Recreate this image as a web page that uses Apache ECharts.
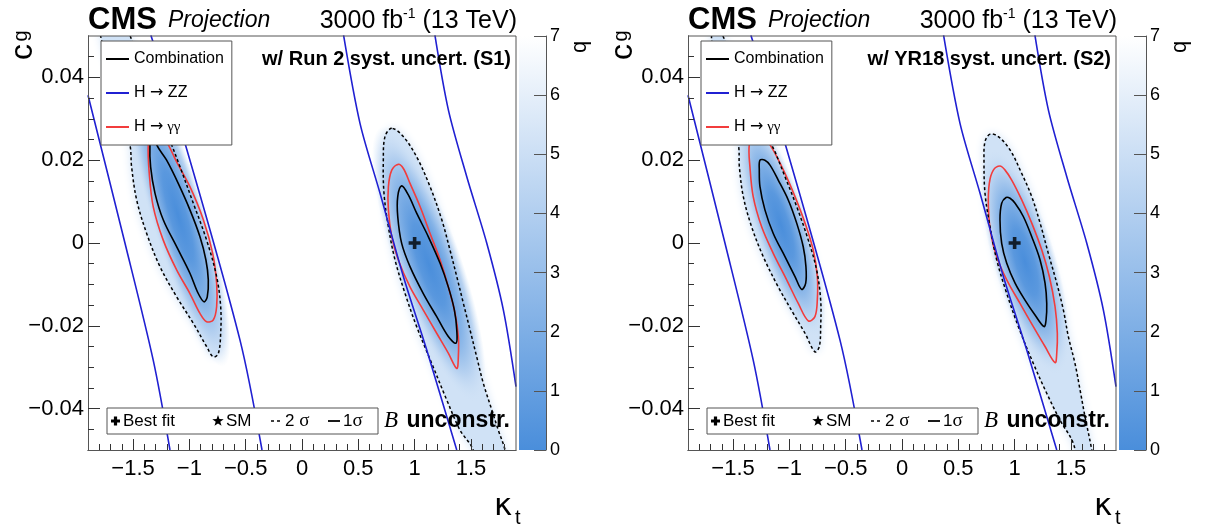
<!DOCTYPE html>
<html>
<head>
<meta charset="utf-8">
<title>CMS projection: c_g vs kappa_t</title>
<script src="https://cdn.jsdelivr.net/npm/echarts@6.0.0/dist/echarts.min.js"></script>
<style>
  html, body { margin: 0; padding: 0; background: #ffffff; }
  #main { width: 1205px; height: 524px; }
</style>
</head>
<body>
<div id="main"></div>
<script>
(function () {
  'use strict';

  // ---- axes ----
  const kappaRange = [-1.9, 1.9];
  const cgRange = [-0.05, 0.05];
  const qRange = [0, 7];
  const kappaTicks = [-1.5, -1, -0.5, 0, 0.5, 1, 1.5];
  const kappaMinorTicks = [-1.8, -1.7, -1.6, -1.4, -1.3, -1.2, -1.1, -0.9, -0.8, -0.7, -0.6,
    -0.4, -0.3, -0.2, -0.1, 0.1, 0.2, 0.3, 0.4, 0.6, 0.7, 0.8, 0.9, 1.1, 1.2, 1.3, 1.4, 1.6, 1.7, 1.8];
  const cgTicks = [-0.04, -0.02, 0, 0.02, 0.04];
  const cgMinorTicks = [-0.045, -0.035, -0.03, -0.025, -0.015, -0.01, -0.005,
    0.005, 0.01, 0.015, 0.025, 0.03, 0.035, 0.045];

  // ---- H -> ZZ contour (same in both scenarios) ----
  const zzEdge1 = [[-1.90, 0.0357], [-1.572, 0.0], [-1.321, -0.0283], [-1.172, -0.05]];
  const zzEdge2 = [[-1.342, 0.0502], [-1.039, 0.0241], [-0.551, -0.0234], [-0.355, -0.05]];
  const zzEdge3 = [[0.369, 0.0502], [0.515, 0.0289], [0.693, 0.012], [0.90, -0.0081], [1.107, -0.0258], [1.374, -0.05]];
  const zzEdge4 = [[1.18, 0.0502], [1.30, 0.0321], [1.463, 0.016], [1.64, 0.0], [1.788, -0.0162], [1.90, -0.0347]];

  // ---- S1: Run 2 systematics ----
  const s1Comb1A = [[-1.33, 0.0275], [-1.350, 0.0237], [-1.344, 0.0184], [-1.305, 0.0120], [-1.232, 0.0056],
    [-1.113, -0.0009], [-0.995, -0.0073], [-0.921, -0.0122], [-0.870, -0.0142], [-0.841, -0.0130],
    [-0.832, -0.0089], [-0.853, -0.0041], [-0.906, 0.0015], [-0.995, 0.0080], [-1.099, 0.0144],
    [-1.202, 0.0200], [-1.290, 0.0237]];
  const s1Comb1B = [[0.885, 0.0138], [0.850, 0.0112], [0.850, 0.0064], [0.885, -0.0001], [0.959, -0.0057],
    [1.077, -0.0122], [1.196, -0.0178], [1.299, -0.0226], [1.368, -0.0242], [1.374, -0.0210],
    [1.353, -0.0162], [1.299, -0.0106], [1.226, -0.0049], [1.122, 0.0015], [1.018, 0.0072], [0.944, 0.0116]];
  const s1GamA = [[-1.33, 0.030], [-1.365, 0.0237], [-1.356, 0.0168], [-1.321, 0.0088], [-1.232, 0.0007],
    [-1.113, -0.0065], [-0.995, -0.0122], [-0.906, -0.0170], [-0.847, -0.0190], [-0.788, -0.0186],
    [-0.758, -0.0154], [-0.758, -0.0097], [-0.793, -0.0025], [-0.876, 0.0056], [-0.995, 0.0136],
    [-1.113, 0.0196], [-1.187, 0.0237]];
  const s1GamB = [[0.855, 0.0190], [0.797, 0.0176], [0.767, 0.0136], [0.767, 0.0080], [0.797, 0.0015],
    [0.855, -0.0041], [0.959, -0.0106], [1.077, -0.0162], [1.196, -0.0218], [1.299, -0.0266],
    [1.374, -0.0303], [1.388, -0.0275], [1.388, -0.0226], [1.359, -0.0170], [1.299, -0.0106],
    [1.226, -0.0041], [1.137, 0.0023], [1.048, 0.0088], [0.959, 0.0144], [0.900, 0.0180]];
  const s1Comb2A = [[-1.85, 0.062], [-1.78, 0.049], [-1.66, 0.037], [-1.528, 0.0237], [-1.513, 0.0184],
    [-1.468, 0.0104], [-1.379, 0.0023], [-1.261, -0.0057], [-1.113, -0.0130], [-0.965, -0.0194],
    [-0.847, -0.0250], [-0.788, -0.0275], [-0.743, -0.0267], [-0.722, -0.0218], [-0.722, -0.0154],
    [-0.758, -0.0081], [-0.847, 0.0007], [-0.965, 0.0096], [-1.083, 0.0184], [-1.157, 0.0237],
    [-1.30, 0.034], [-1.44, 0.044], [-1.56, 0.053], [-1.62, 0.062]];
  const s1Comb2B = [[0.797, 0.0277], [0.737, 0.0257], [0.722, 0.0200], [0.728, 0.0120], [0.767, 0.0039],
    [0.826, -0.0041], [0.915, -0.0122], [1.018, -0.0202], [1.152, -0.0291], [1.285, -0.0379],
    [1.403, -0.0452], [1.52, -0.050], [1.60, -0.060], [1.88, -0.060], [1.803, -0.050], [1.743, -0.0452],
    [1.685, -0.0403], [1.610, -0.0339], [1.551, -0.0275], [1.492, -0.0210], [1.433, -0.0146],
    [1.374, -0.0081], [1.314, -0.0017], [1.241, 0.0056], [1.137, 0.0136], [1.018, 0.0208], [0.900, 0.0257]];

  // ---- S2: YR18 systematics ----
  const s2Comb1A = [[-1.261, 0.0200], [-1.267, 0.0176], [-1.261, 0.0136], [-1.217, 0.0080], [-1.143, 0.0023],
    [-1.039, -0.0033], [-0.950, -0.0081], [-0.891, -0.0112], [-0.855, -0.0097], [-0.853, -0.0057],
    [-0.877, -0.0009], [-0.935, 0.0048], [-1.010, 0.0104], [-1.099, 0.0152], [-1.172, 0.0188], [-1.217, 0.0200]];
  const s2Comb1B = [[0.924, 0.0110], [0.885, 0.0096], [0.870, 0.0056], [0.885, -0.0001], [0.930, -0.0049],
    [1.004, -0.0097], [1.092, -0.0138], [1.181, -0.0174], [1.261, -0.0202], [1.279, -0.0186],
    [1.285, -0.0146], [1.270, -0.0097], [1.226, -0.0041], [1.152, 0.0015], [1.077, 0.0064],
    [1.004, 0.0096], [0.959, 0.0108]];
  const s2GamA = [[-1.30, 0.029], [-1.356, 0.0237], [-1.350, 0.0184], [-1.321, 0.0112], [-1.246, 0.0039],
    [-1.143, -0.0025], [-1.024, -0.0089], [-0.921, -0.0146], [-0.832, -0.0188], [-0.773, -0.0178],
    [-0.752, -0.0138], [-0.752, -0.0081], [-0.788, -0.0017], [-0.861, 0.0048], [-0.950, 0.0112],
    [-1.039, 0.0168], [-1.128, 0.0217], [-1.172, 0.0237]];
  const s2GamB = [[0.870, 0.0186], [0.811, 0.0176], [0.775, 0.0144], [0.767, 0.0088], [0.788, 0.0023],
    [0.841, -0.0033], [0.930, -0.0089], [1.048, -0.0146], [1.166, -0.0202], [1.270, -0.0250],
    [1.359, -0.0289], [1.374, -0.0266], [1.379, -0.0218], [1.359, -0.0154], [1.308, -0.0081],
    [1.241, -0.0017], [1.152, 0.0048], [1.063, 0.0104], [0.974, 0.0152], [0.915, 0.0176]];
  const s2Comb2A = [[-1.65, 0.054], [-1.69, 0.049], [-1.57, 0.036], [-1.453, 0.0237], [-1.444, 0.0184],
    [-1.409, 0.0112], [-1.335, 0.0039], [-1.232, -0.0033], [-1.099, -0.0106], [-0.965, -0.0170],
    [-0.861, -0.0218], [-0.773, -0.0263], [-0.734, -0.0250], [-0.722, -0.0202], [-0.722, -0.0138],
    [-0.758, -0.0065], [-0.832, 0.0007], [-0.935, 0.0088], [-1.039, 0.0160], [-1.128, 0.0221],
    [-1.157, 0.0237], [-1.30, 0.033], [-1.45, 0.042], [-1.59, 0.050]];
  const s2Comb2B = [[0.782, 0.0263], [0.737, 0.0245], [0.728, 0.0200], [0.737, 0.0120], [0.782, 0.0039],
    [0.841, -0.0041], [0.930, -0.0122], [1.033, -0.0202], [1.166, -0.0291], [1.285, -0.0363],
    [1.403, -0.0428], [1.521, -0.0484], [1.58, -0.056], [1.66, -0.059], [1.71, -0.055], [1.685, -0.050],
    [1.625, -0.0420], [1.581, -0.0355], [1.536, -0.0291], [1.477, -0.0226], [1.433, -0.0162],
    [1.374, -0.0097], [1.299, -0.0025], [1.226, 0.0048], [1.152, 0.0112], [1.063, 0.0168],
    [0.959, 0.0225], [0.855, 0.0257]];

  const bestFit = [[1, 0]];

  const panelTags = ['w/ Run 2 syst. uncert. (S1)', 'w/ YR18 syst. uncert. (S2)'];
  const panelContours = [
    { comb1: [s1Comb1A, s1Comb1B], gam: [s1GamA, s1GamB], comb2: [s1Comb2A, s1Comb2B] },
    { comb1: [s2Comb1A, s2Comb1B], gam: [s2GamA, s2GamB], comb2: [s2Comb2A, s2Comb2B] }
  ];

  // ---- style ----
  const SANS = '"Liberation Sans", Arial, Helvetica, sans-serif';
  const SERIF = '"Liberation Serif", "Times New Roman", serif';
  const GREEK = '"DejaVu Sans", sans-serif';
  const BLUE = '#2020d2';
  const RED = '#f23c3c';
  const FRAME = '#555555';
  const TICK = '#333333';
  const qLow = [74, 142, 219];

  function qColor(q, a) {
    const t = Math.min(Math.max(q / 7, 0), 1);
    const c = qLow.map(v => Math.round(v + (255 - v) * t));
    return 'rgba(' + c[0] + ',' + c[1] + ',' + c[2] + ',' + (a === undefined ? 1 : a) + ')';
  }
  const minus = v => String(v).replace('-', '\u2212');

  const glowStops = [
    { offset: 0, color: qColor(0) },
    { offset: 0.29, color: qColor(0.6) },
    { offset: 0.57, color: qColor(2.3) },
    { offset: 0.8, color: qColor(4.3) },
    { offset: 1, color: qColor(5.2, 0) }
  ];

  const grids = [], xAxes = [], yAxes = [], series = [], legends = [], graphics = [];

  function polygonSeries(name, p, pts, style, z, color) {
    return {
      type: 'custom', name: name, coordinateSystem: 'cartesian2d',
      xAxisIndex: 3 * p, yAxisIndex: 3 * p, clip: true, silent: true, z: z,
      itemStyle: color ? { color: color } : undefined,
      data: pts, encode: { x: 0, y: 1 },
      renderItem: function (params, api) {
        if (params.dataIndex !== 0) return null;
        return {
          type: 'polygon',
          shape: { points: pts.map(v => api.coord(v)), smooth: 0.35 },
          style: style
        };
      }
    };
  }

  // soft shading around the 1 sigma region, shaped from the contour itself
  function glowSeries(p, pts) {
    return {
      type: 'custom', coordinateSystem: 'cartesian2d',
      xAxisIndex: 3 * p, yAxisIndex: 3 * p, clip: true, silent: true, z: 1,
      data: pts, encode: { x: 0, y: 1 },
      renderItem: function (params, api) {
        if (params.dataIndex !== 0) return null;
        const px = pts.map(v => api.coord(v));
        let a = px[0], b = px[1], far = 0;
        for (let i = 0; i < px.length; i++) {
          for (let j = i + 1; j < px.length; j++) {
            const d = Math.hypot(px[i][0] - px[j][0], px[i][1] - px[j][1]);
            if (d > far) { far = d; a = px[i]; b = px[j]; }
          }
        }
        const cx = (a[0] + b[0]) / 2, cy = (a[1] + b[1]) / 2;
        const ang = Math.atan2(b[1] - a[1], b[0] - a[0]);
        let minor = 0;
        px.forEach(q => {
          minor = Math.max(minor, Math.abs(-(q[0] - cx) * Math.sin(ang) + (q[1] - cy) * Math.cos(ang)));
        });
        const R = 100, k = 1.75;
        return {
          type: 'circle', shape: { cx: 0, cy: 0, r: R },
          x: cx, y: cy, rotation: -ang, scaleX: far / 2 * k / R, scaleY: minor * k / R,
          style: { fill: { type: 'radial', x: 0.5, y: 0.5, r: 0.5, colorStops: glowStops } }
        };
      }
    };
  }

  function text(x, y, str, font, extra) {
    return {
      type: 'text', x: x, y: y, z: 100, silent: true,
      style: Object.assign({ text: str, font: font, fill: '#000', align: 'left', verticalAlign: 'middle',
        textAlign: 'left', textVerticalAlign: 'middle' }, extra || {})
    };
  }

  const legendRich = {
    n: { fontSize: 16, fontFamily: SANS, color: '#000' },
    a: { fontSize: 16, fontFamily: GREEK, color: '#000' },
    g: { fontSize: 15, fontFamily: SERIF, color: '#000' }
  };
  function legendLabel(name) {
    if (name === 'H \u2192 ZZ') return '{n|H }{a|\u2192}{n| ZZ}';
    if (name === 'H \u2192 \u03b3\u03b3') return '{n|H }{a|\u2192}{g| \u03b3\u03b3}';
    return '{n|' + name + '}';
  }

  [0, 1].forEach(function (p) {
    const dx = p * 600;
    const L = 88 + dx, T = 36, W = 428, H = 414;
    const c = panelContours[p];

    grids.push({ left: L, top: T, width: W, height: H, show: false });
    grids.push({ left: L + 431, top: T, width: 27, height: H, show: false });

    const labelStyle = { color: '#000', fontSize: 22, fontFamily: SANS, formatter: minus };
    xAxes.push({
      gridIndex: 2 * p, type: 'value', position: 'bottom', min: kappaRange[0], max: kappaRange[1], z: 5,
      axisLine: { show: true, onZero: false, lineStyle: { color: FRAME, width: 1 } }, splitLine: { show: false },
      axisTick: { show: true, inside: true, length: 11, customValues: kappaTicks, lineStyle: { color: TICK } },
      axisLabel: Object.assign({ show: true, customValues: kappaTicks, margin: 8 }, labelStyle)
    });
    xAxes.push({
      gridIndex: 2 * p, type: 'value', position: 'bottom', min: kappaRange[0], max: kappaRange[1], z: 5,
      axisLine: { show: true, onZero: false, lineStyle: { color: FRAME, width: 1 } }, splitLine: { show: false },
      axisLabel: { show: false },
      axisTick: { show: true, inside: true, length: 6, customValues: kappaMinorTicks, lineStyle: { color: TICK } }
    });
    // colour bar: horizontal extent -1..0 so the scale axis sits on its right edge
    xAxes.push({ gridIndex: 2 * p + 1, type: 'value', position: 'bottom', min: -1, max: 0, show: false,
      axisLine: { onZero: false } });

    yAxes.push({
      gridIndex: 2 * p, type: 'value', position: 'left', min: cgRange[0], max: cgRange[1], z: 5,
      axisLine: { show: true, onZero: false, lineStyle: { color: FRAME, width: 1 } }, splitLine: { show: false },
      axisTick: { show: true, inside: true, length: 12, customValues: cgTicks, lineStyle: { color: TICK } },
      axisLabel: Object.assign({ show: true, customValues: cgTicks, margin: 4 }, labelStyle)
    });
    yAxes.push({
      gridIndex: 2 * p, type: 'value', position: 'left', min: cgRange[0], max: cgRange[1], z: 5,
      axisLine: { show: true, onZero: false, lineStyle: { color: FRAME, width: 1 } }, splitLine: { show: false },
      axisLabel: { show: false },
      axisTick: { show: true, inside: true, length: 6, customValues: cgMinorTicks, lineStyle: { color: TICK } }
    });
    yAxes.push({
      gridIndex: 2 * p + 1, type: 'value', min: qRange[0], max: qRange[1], interval: 1, position: 'right', z: 5,
      axisLine: { show: true, lineStyle: { color: FRAME } }, splitLine: { show: false },
      axisTick: { show: true, inside: true, length: 12, lineStyle: { color: FRAME } },
      axisLabel: { color: '#000', fontSize: 18, fontFamily: SANS, margin: 4 }
    });

    // shading (q map)
    c.comb2.forEach(pts => series.push(polygonSeries(null, p, pts,
      { fill: qColor(5.2), shadowBlur: 10, shadowColor: qColor(5.2) }, 1)));
    c.comb1.forEach(pts => series.push(glowSeries(p, pts)));

    // H -> ZZ
    [zzEdge1, zzEdge2, zzEdge3, zzEdge4].forEach(pts => series.push({
      type: 'line', name: 'H \u2192 ZZ', xAxisIndex: 3 * p, yAxisIndex: 3 * p, z: 3,
      data: pts, smooth: 0.3, symbol: 'none', silent: true,
      lineStyle: { color: BLUE, width: 1.6 }, itemStyle: { color: BLUE }
    }));
    // H -> gamma gamma
    c.gam.forEach(pts => series.push(polygonSeries('H \u2192 \u03b3\u03b3', p, pts,
      { fill: 'none', stroke: RED, lineWidth: 1.6 }, 3, RED)));
    // combination, 2 sigma and 1 sigma
    c.comb2.forEach(pts => series.push(polygonSeries('Combination', p, pts,
      { fill: 'none', stroke: '#000', lineWidth: 1.5, lineDash: [3, 2.5] }, 3, '#000')));
    c.comb1.forEach(pts => series.push(polygonSeries('Combination', p, pts,
      { fill: 'none', stroke: '#000', lineWidth: 1.6 }, 3, '#000')));
    series.push({
      type: 'scatter', name: 'Best fit', xAxisIndex: 3 * p, yAxisIndex: 3 * p, z: 4, silent: true,
      data: bestFit, symbolSize: 12,
      symbol: 'path://M3.5,0h3v3.5h3.5v3h-3.5v3.5h-3v-3.5h-3.5v-3h3.5z',
      itemStyle: { color: '#000' }
    });

    // colour scale
    series.push({
      type: 'custom', coordinateSystem: 'cartesian2d', xAxisIndex: 3 * p + 2, yAxisIndex: 3 * p + 2,
      silent: true, z: 2, data: [[-1, qRange[0]], [0, qRange[1]]], encode: { x: 0, y: 1 },
      renderItem: function (params, api) {
        if (params.dataIndex !== 0) return null;
        const lo = api.coord([-1, qRange[0]]), hi = api.coord([0, qRange[1]]);
        return {
          type: 'rect',
          shape: { x: lo[0], y: hi[1], width: hi[0] - lo[0], height: lo[1] - hi[1] },
          style: { fill: { type: 'linear', x: 0, y: 1, x2: 0, y2: 0,
            colorStops: [{ offset: 0, color: qColor(0) }, { offset: 1, color: qColor(7) }] } }
        };
      }
    });

    legends.push({
      left: 101 + dx, top: 41, orient: 'vertical', selectedMode: false, z: 10,
      backgroundColor: '#fff', borderColor: FRAME, borderWidth: 1, borderRadius: 0,
      padding: [10, 8, 10, 5], itemGap: 18, itemWidth: 23, itemHeight: 2, icon: 'rect',
      formatter: legendLabel,
      textStyle: { color: '#000', fontSize: 16, fontFamily: SANS, rich: legendRich },
      data: [
        { name: 'Combination', itemStyle: { color: '#000' } },
        { name: 'H \u2192 ZZ', itemStyle: { color: BLUE } },
        { name: 'H \u2192 \u03b3\u03b3', itemStyle: { color: RED } }
      ]
    });

    // top and right sides of the frame
    graphics.push({ type: 'polyline', z: 50, silent: true,
      shape: { points: [[L, T], [L + W, T], [L + W, T + H]] },
      style: { fill: 'none', stroke: FRAME, lineWidth: 1 } });

    // header
    graphics.push(text(L, 20, 'CMS', 'bold 31px ' + SANS));
    graphics.push(text(L + 80, 21, 'Projection', 'italic 23px ' + SANS));
    graphics.push({
      type: 'text', x: L + 429, y: 21, z: 100, silent: true,
      style: {
        text: '{n|3000 fb}{s|-1}{n| (13 TeV)}', align: 'right', verticalAlign: 'middle',
        textAlign: 'right', textVerticalAlign: 'middle',
        rich: {
          n: { fontSize: 25, fontFamily: SANS, lineHeight: 28, fill: '#000', color: '#000' },
          s: { fontSize: 14, fontFamily: SANS, lineHeight: 14, verticalAlign: 'top', fill: '#000', color: '#000' }
        }
      }
    });
    graphics.push(text(L + 423, 59, panelTags[p], 'bold 20px ' + SANS, { align: 'right', textAlign: 'right' }));

    // axis titles
    const ct = text(23 + dx, 52, 'c', '32px ' + SANS, { align: 'center', textAlign: 'center' });
    ct.rotation = Math.PI / 2;
    const gt = text(21 + dx, 36, 'g', '20px ' + SANS, { align: 'center', textAlign: 'center' });
    gt.rotation = Math.PI / 2;
    graphics.push(ct, gt);
    graphics.push(text(494 + dx, 507, '\u03ba', '31px ' + GREEK));
    graphics.push(text(515 + dx, 518, 't', '20px ' + SANS));
    const qt = text(580 + dx, 47, 'q', '22px ' + SANS, { align: 'center', textAlign: 'center' });
    qt.rotation = Math.PI / 2;
    graphics.push(qt);

    // lower legend
    const ly = 421;
    graphics.push({ type: 'rect', z: 90, silent: true, shape: { x: 107 + dx, y: 408, width: 271, height: 26 },
      style: { fill: '#fff', stroke: FRAME, lineWidth: 1 } });
    const cx = 115.5 + dx, a = 4.5, h = 1.6;
    graphics.push({ type: 'polygon', z: 100, silent: true, shape: { points: [
      [cx - h, ly - a], [cx + h, ly - a], [cx + h, ly - h], [cx + a, ly - h], [cx + a, ly + h], [cx + h, ly + h],
      [cx + h, ly + a], [cx - h, ly + a], [cx - h, ly + h], [cx - a, ly + h], [cx - a, ly - h], [cx - h, ly - h]] },
      style: { fill: '#000' } });
    graphics.push(text(123 + dx, ly, 'Best fit', '17px ' + SANS));
    const star = [];
    for (let i = 0; i < 10; i++) {
      const r = i % 2 ? 2.4 : 6, t = -Math.PI / 2 + i * Math.PI / 5;
      star.push([218 + dx + r * Math.cos(t), ly + r * Math.sin(t)]);
    }
    graphics.push({ type: 'polygon', z: 100, silent: true, shape: { points: star }, style: { fill: '#000' } });
    graphics.push(text(226 + dx, ly, 'SM', '17px ' + SANS));
    graphics.push({ type: 'line', z: 100, silent: true, shape: { x1: 271 + dx, y1: ly, x2: 283 + dx, y2: ly },
      style: { stroke: '#000', lineWidth: 1.5, lineDash: [3, 3] } });
    graphics.push({
      type: 'text', x: 285 + dx, y: ly, z: 100, silent: true,
      style: { text: '{a|2 }{b|\u03c3}', verticalAlign: 'middle', textVerticalAlign: 'middle',
        rich: { a: { fontSize: 17, fontFamily: SANS, fill: '#000' }, b: { fontSize: 19, fontFamily: SERIF, fill: '#000' } } }
    });
    graphics.push({ type: 'line', z: 100, silent: true, shape: { x1: 328 + dx, y1: ly, x2: 340 + dx, y2: ly },
      style: { stroke: '#000', lineWidth: 1.8 } });
    graphics.push({
      type: 'text', x: 343 + dx, y: ly, z: 100, silent: true,
      style: { text: '{a|1}{b|\u03c3}', verticalAlign: 'middle', textVerticalAlign: 'middle',
        rich: { a: { fontSize: 17, fontFamily: SANS, fill: '#000' }, b: { fontSize: 19, fontFamily: SERIF, fill: '#000' } } }
    });
    graphics.push(text(384 + dx, ly, 'B', 'italic 23px ' + SERIF));
    graphics.push(text(510 + dx, ly, 'unconstr.', 'bold 23px ' + SANS, { align: 'right', textAlign: 'right' }));
  });

  const chart = echarts.init(document.getElementById('main'), null, { renderer: 'canvas' });
  chart.setOption({
    animation: false,
    backgroundColor: '#ffffff',
    grid: grids,
    xAxis: xAxes,
    yAxis: yAxes,
    legend: legends,
    series: series,
    graphic: { elements: graphics }
  });
})();
</script>
</body>
</html>
